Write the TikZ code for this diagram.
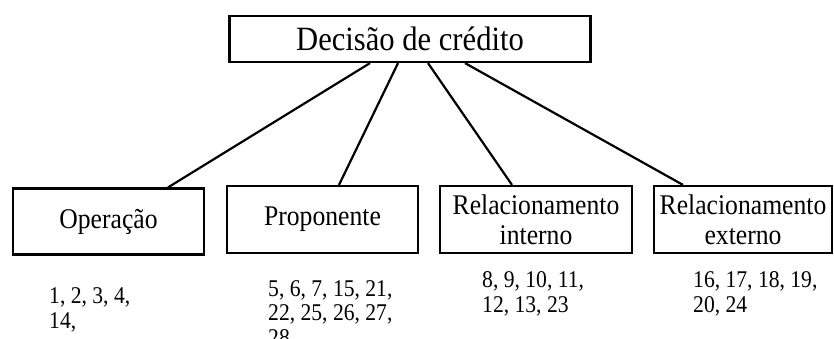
\documentclass[tikz,border=0pt]{standalone}
\usepackage{fontspec}
\setmainfont{Liberation Serif}[FakeStretch=0.9]
\begin{document}
\begin{tikzpicture}[x=1pt,y=-1pt,
  box/.style={draw, line width=2.2pt, inner sep=2pt, align=center, font=\fontsize{28.5}{30}\selectfont},
  nums/.style={align=left, anchor=base west, inner sep=0pt, font=\fontsize{24}{24.5}\selectfont},
  link/.style={line width=2.2pt}]
\useasboundingbox (0,0) rectangle (834,338);
\node[box, minimum width=361pt, minimum height=46pt, font=\fontsize{34}{38}\selectfont] (top) at (410,39) {Decisão de crédito};
\node[box, minimum width=191pt, minimum height=66pt] (op) at (108.5,221.5) {Operação};
\node[box, minimum width=191pt, minimum height=67pt] (prop) at (322.5,219.5) {Proponente};
\node[box, minimum width=192pt, minimum height=67pt] (ri) at (536,219.5) {Relacionamento\\interno};
\node[box, minimum width=178pt, minimum height=67pt] (re) at (743,219.5) {Relacionamento\\externo};
\draw[link] ([xshift=-40pt]top.south) -- ([xshift=59.5pt]op.north);
\draw[link] ([xshift=-12pt]top.south) -- ([xshift=16.5pt]prop.north);
\draw[link] ([xshift=18pt]top.south) -- ([xshift=-24pt]ri.north);
\draw[link] ([xshift=55pt]top.south) -- ([xshift=-60pt]re.north);
\node[nums] (n1) at (49,328) {1, 2, 3, 4,\\14,};
\node[nums] (n2) at (268,345) {5, 6, 7, 15, 21,\\22, 25, 26, 27,\\28};
\node[nums] (n3) at (482,312) {8, 9, 10, 11,\\12, 13, 23};
\node[nums] (n4) at (693,312) {16, 17, 18, 19,\\20, 24};
\end{tikzpicture}
\end{document}
